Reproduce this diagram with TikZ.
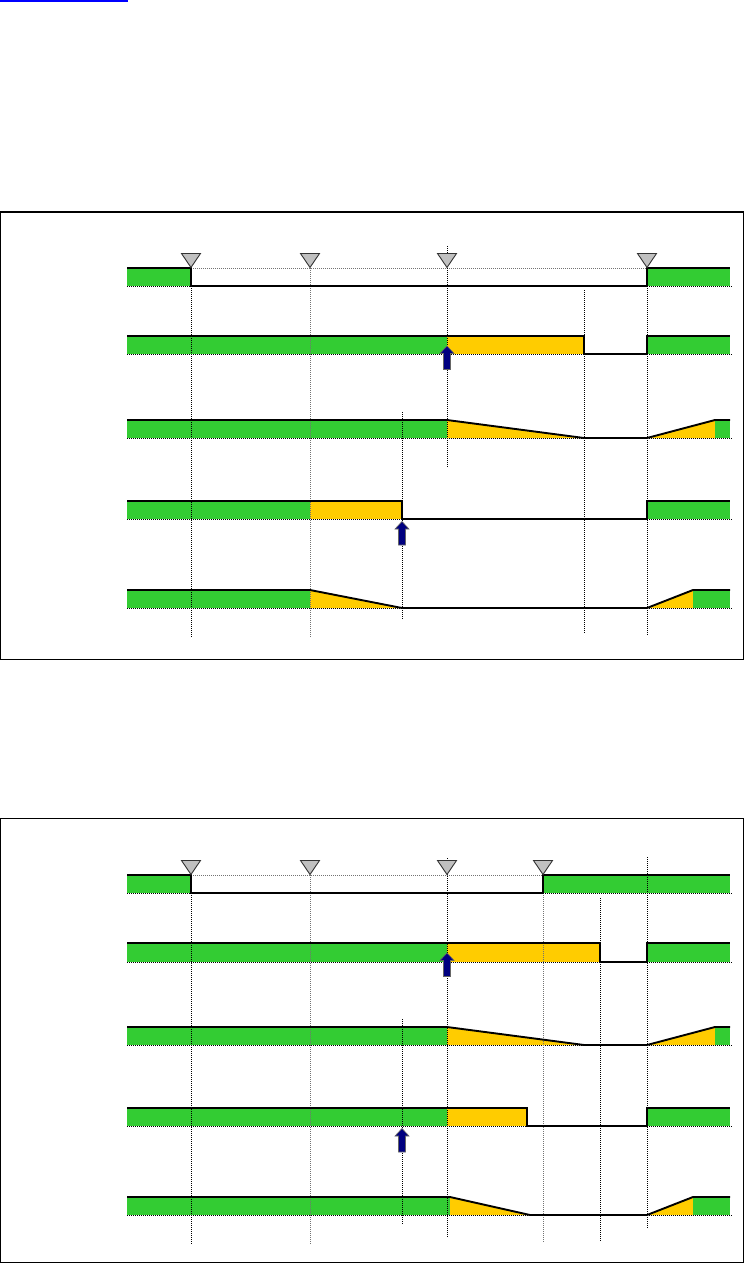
\documentclass[tikz,border=0pt]{standalone}
\usetikzlibrary{calc}
\definecolor{sgreen}{HTML}{33CC33}
\definecolor{syellow}{HTML}{FFCC00}
\definecolor{tgray}{HTML}{C0C0C0}
\definecolor{anavy}{HTML}{000080}
\tikzset{
  frame/.style={draw=black,line width=1.3pt},
  sig/.style={draw=black,line width=1.9pt,line join=miter},
  guide/.style={draw=black,line width=0.7pt,dash pattern=on 1pt off 1pt},
  gguide/.style={draw=black!55,line width=0.8pt,dash pattern=on 1pt off 1pt},
  gfill/.style={fill=sgreen},
  yfill/.style={fill=syellow},
  trifill/.style={fill=tgray,draw=black!80,line width=0.9pt,line join=miter},
  arrfill/.style={fill=anavy,draw=black!60,line width=0.6pt,line join=miter},
}
% inverted grey triangle marker, tip at (#1,#2)
\newcommand\trimark[2]{\filldraw[trifill] (#1,#2) -- ++(-9.5,-14) -- ++(19,0) -- cycle;}
% navy up arrow, tip at (#1,#2)
\newcommand\uparr[2]{\filldraw[arrfill] (#1,#2) -- ++(7,7.5) -- ++(-3.5,0) -- ++(0,16) -- ++(-7,0) -- ++(0,-16) -- ++(-3.5,0) -- cycle;}
\begin{document}
\begin{tikzpicture}[x=1pt,y=-1pt]
\useasboundingbox (0,0) rectangle (744,1264);
\fill[white] (0,0) rectangle (744,1264);
% link fragment at top
\draw[draw={rgb,255:red,0;green,0;blue,255},line width=1.3pt] (0,0.9) -- (128,0.9);

% ===================== PANEL 1 =====================
\draw[frame] (0.7,212) rectangle (743.3,659.5);
% fills
\fill[gfill] (127,268) rectangle (191,286);
\fill[gfill] (647,268) rectangle (730,286);
\fill[gfill] (127,336) rectangle (447,354);
\fill[yfill] (447,336) rectangle (584,354);
\fill[gfill] (647,336) rectangle (730,354);
\fill[gfill] (127,420) rectangle (447,438);
\fill[yfill] (447,420) -- (584,438) -- (447,438) -- cycle;
\fill[yfill] (647,438) -- (715,420) -- (715,438) -- cycle;
\fill[gfill] (715,420) rectangle (730,438);
\fill[gfill] (127,501) rectangle (310,519);
\fill[yfill] (310,501) rectangle (402,519);
\fill[gfill] (647,501) rectangle (730,519);
\fill[gfill] (127,590) rectangle (310,608);
\fill[yfill] (310,590) -- (402,608) -- (310,608) -- cycle;
\fill[yfill] (647,608) -- (693,590) -- (693,608) -- cycle;
\fill[gfill] (693,590) rectangle (730,608);
% guides
\draw[gguide] (191,268) -- (647,268);
\foreach \y in {286,354,438,519,608} \draw[guide] (127,\y) -- (733,\y);
\draw[guide] (191,268) -- (191,638);
\draw[gguide] (310,268) -- (310,638);
\draw[guide] (447,246) -- (447,468);
\draw[guide] (402,412) -- (402,619);
\draw[guide] (584,290) -- (584,634);
\draw[guide] (647,268) -- (647,636);
% signals
\draw[sig] (127,268) -- (191,268) -- (191,286) -- (647,286) -- (647,268) -- (730,268);
\draw[sig] (127,336) -- (584,336) -- (584,354) -- (647,354) -- (647,336) -- (730,336);
\draw[sig] (127,420) -- (447,420) -- (584,438) -- (647,438) -- (715,420) -- (730,420);
\draw[sig] (127,501) -- (402,501) -- (402,519) -- (647,519) -- (647,501) -- (730,501);
\draw[sig] (127,590) -- (310,590) -- (402,608) -- (647,608) -- (693,590) -- (730,590);
% markers
\trimark{191}{267.5}
\trimark{310}{267.5}
\trimark{447}{267.5}
\trimark{647}{267.5}
\uparr{447}{346}
\uparr{402}{521.5}

% ===================== PANEL 2 =====================
\draw[frame] (0.7,818.3) rectangle (743.3,1262.5);
% fills
\fill[gfill] (127,875) rectangle (191,893);
\fill[gfill] (543,875) rectangle (730,893);
\fill[gfill] (127,943) rectangle (447,962);
\fill[yfill] (447,943) rectangle (600,962);
\fill[gfill] (647,943) rectangle (730,962);
\fill[gfill] (127,1027) rectangle (447,1045);
\fill[yfill] (447,1027) -- (584,1045) -- (447,1045) -- cycle;
\fill[yfill] (647,1045) -- (715,1027) -- (715,1045) -- cycle;
\fill[gfill] (715,1027) rectangle (730,1045);
\fill[gfill] (127,1108) rectangle (447,1126);
\fill[yfill] (447,1108) rectangle (527,1126);
\fill[gfill] (647,1108) rectangle (730,1126);
\fill[gfill] (127,1197) rectangle (450,1215);
\fill[yfill] (450,1197) -- (530,1215) -- (450,1215) -- cycle;
\fill[yfill] (647,1215) -- (693,1197) -- (693,1215) -- cycle;
\fill[gfill] (693,1197) rectangle (730,1215);
% guides
\draw[gguide] (191,875) -- (543,875);
\foreach \y in {893,962,1045,1126,1215} \draw[guide] (127,\y) -- (733,\y);
\draw[guide] (191,875) -- (191,1245);
\draw[gguide] (310,875) -- (310,1245);
\draw[guide] (447,858) -- (447,1237);
\draw[guide] (402,1019) -- (402,1225);
\draw[gguide] (543,893) -- (543,1243);
\draw[guide] (600,898) -- (600,1242);
\draw[guide] (647,857) -- (647,1228);
% signals
\draw[sig] (127,875) -- (191,875) -- (191,893) -- (543,893) -- (543,875) -- (730,875);
\draw[sig] (127,943) -- (600,943) -- (600,962) -- (647,962) -- (647,943) -- (730,943);
\draw[sig] (127,1027) -- (447,1027) -- (584,1045) -- (647,1045) -- (715,1027) -- (730,1027);
\draw[sig] (127,1108) -- (527,1108) -- (527,1126) -- (647,1126) -- (647,1108) -- (730,1108);
\draw[sig] (127,1197) -- (450,1197) -- (530,1215) -- (647,1215) -- (693,1197) -- (730,1197);
% markers
\trimark{191}{874.5}
\trimark{310}{874.5}
\trimark{447}{874.5}
\trimark{543}{874.5}
\uparr{447}{953}
\uparr{402}{1128.5}
\end{tikzpicture}
\end{document}
